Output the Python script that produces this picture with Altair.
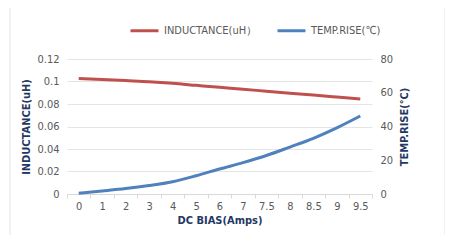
import altair as alt
import pandas as pd

categories = ["0", "1", "2", "3", "4", "5", "6", "7", "7.5", "8", "8.5", "9", "9.5"]
inductance = [0.1027, 0.1018, 0.1008, 0.0998, 0.0984, 0.0966, 0.0948, 0.0932, 0.0913, 0.0895, 0.0879, 0.0862, 0.0845]
temp_rise = [0.5, 1.8, 3.2, 5.0, 7.3, 10.8, 14.8, 18.6, 22.8, 27.8, 33.0, 39.2, 46.2]
series_names = ["INDUCTANCE(uH）", "TEMP.RISE(℃)"]
series_colors = ["#C0504D", "#4F81BD"]
left_ticks = [0, 0.02, 0.04, 0.06, 0.08, 0.1, 0.12]
right_ticks = [0, 20, 40, 60, 80]

df_l = pd.DataFrame({"x": categories, "v": inductance, "s": series_names[0]})
df_r = pd.DataFrame({"x": categories, "v": temp_rise, "s": series_names[1]})

FONT = "Liberation Sans Narrow, DejaVu Sans Condensed, Noto Sans"
LBL = "#595959"
TTL = "#1F3864"

color = alt.Color("s:N", scale=alt.Scale(domain=series_names, range=series_colors),
                  legend=alt.Legend(title=None, orient="none", direction="horizontal",
                                    legendX=62, legendY=-44, symbolType="stroke",
                                    symbolStrokeWidth=3, symbolSize=784,
                                    labelColor=LBL, labelFontSize=11, labelFont=FONT,
                                    columnPadding=13, labelOffset=4))

xenc = alt.X("x:N", sort=categories, scale=alt.Scale(paddingInner=0, paddingOuter=0),
             axis=alt.Axis(title="DC BIAS(Amps)", labelAngle=0, tickBand="extent",
                           domainColor="#D9D9D9", tickColor="#D9D9D9", tickSize=4,
                           labelColor=LBL, labelFontSize=11, labelFont=FONT, labelPadding=2,
                           titleColor=TTL, titleFontSize=11, titleFont=FONT, titleFontWeight="bold",
                           titlePadding=3, grid=False))

left = alt.Chart(df_l).mark_line(strokeWidth=3, interpolate="monotone").encode(
    x=xenc,
    y=alt.Y("v:Q", scale=alt.Scale(domain=[0, 0.12], nice=False),
            axis=alt.Axis(title="INDUCTANCE(uH)", values=left_ticks, format=".2~f",
                          domain=False, ticks=False, grid=True, gridColor="#E4E4E4",
                          labelColor=LBL, labelFontSize=11, labelFont=FONT, labelPadding=8,
                          titleColor=TTL, titleFontSize=11, titleFont=FONT, titleFontWeight="bold",
                          titlePadding=5)),
    color=color,
)

right = alt.Chart(df_r).mark_line(strokeWidth=3, interpolate="monotone").encode(
    x=xenc,
    y=alt.Y("v:Q", scale=alt.Scale(domain=[0, 80], nice=False),
            axis=alt.Axis(title="TEMP.RISE(℃)", orient="right", values=right_ticks,
                          domain=False, ticks=False, grid=False,
                          labelColor=LBL, labelFontSize=11, labelFont=FONT, labelPadding=8,
                          titleColor=TTL, titleFontSize=11, titleFont=FONT, titleFontWeight="bold",
                          titleAngle=270, titleBaseline="top", titlePadding=6)),
    color=color,
)

frame = alt.Chart(pd.DataFrame({"a": [0]})).mark_rect(
    fill="transparent", stroke="#DCE3EC", strokeWidth=1).encode(
    x=alt.value(-57), x2=alt.value(378), y=alt.value(-58), y2=alt.value(178))

chart = alt.layer(frame, left, right).resolve_scale(y="independent").properties(
    width=305, height=135,
    autosize=alt.AutoSizeParams(type="none"),
    padding={"left": 59, "top": 51, "right": 73, "bottom": 41},
).configure_view(stroke=None)

chart.save("out.html", embed_options={"renderer": "svg", "actions": False})
